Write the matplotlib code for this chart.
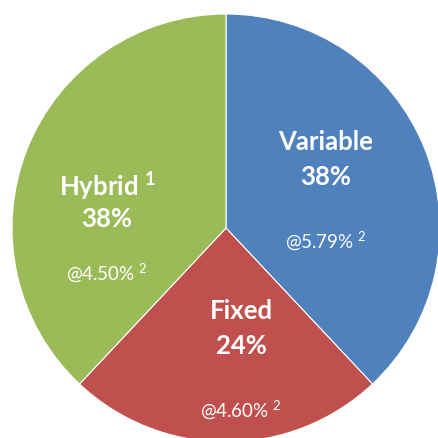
import matplotlib
matplotlib.use('Agg')
import matplotlib.pyplot as plt

plt.rcParams['mathtext.fontset'] = 'custom'
plt.rcParams['mathtext.rm'] = 'Lato'
plt.rcParams['mathtext.bf'] = 'Lato:bold'

names = ["Variable", "Fixed", "Hybrid $^{\\mathbf{1}}$"]
shares = [38, 24, 38]
rates = ["@5.79% $^{2}$", "@4.60% $^{2}$", "@4.50% $^{2}$"]
colours = ["#4F81BD", "#C0504D", "#9BBB59"]

# label centres in pixels of the 438x438 image (x, name y, percent y, rate y)
label_px = [(326, 142, 177, 241), (241, 311, 346, 410), (107, 186, 219, 273)]

W = 438
cx, cy, r = 226, 228, 214

fig = plt.figure(figsize=(4.38, 4.38), dpi=100)
ax = fig.add_axes([(cx - r) / W, (W - cy - r) / W, 2 * r / W, 2 * r / W])

ax.pie(shares, colors=colours, startangle=90, counterclock=False,
       radius=1, wedgeprops=dict(edgecolor='white', linewidth=0.8))
ax.set_xlim(-1, 1)
ax.set_ylim(-1, 1)
ax.set_aspect('equal')
ax.axis('off')

def to_data(px, py):
    return (px - cx) / r, (cy - py) / r

for name, share, rate, (px, py1, py2, py3) in zip(names, shares, rates, label_px):
    x, y = to_data(px, py1)
    ax.text(x, y, name, color='white', fontsize=18.5, fontweight='bold',
            family='Lato', ha='center', va='center')
    x, y = to_data(px, py2)
    ax.text(x, y, f"{share}%", color='white', fontsize=18.5, fontweight='bold',
            family='Lato', ha='center', va='center')
    x, y = to_data(px, py3)
    ax.text(x, y, rate, color='white', fontsize=13.5,
            family='Lato', ha='center', va='center')

fig.savefig('out.png', dpi=100, facecolor='white')
